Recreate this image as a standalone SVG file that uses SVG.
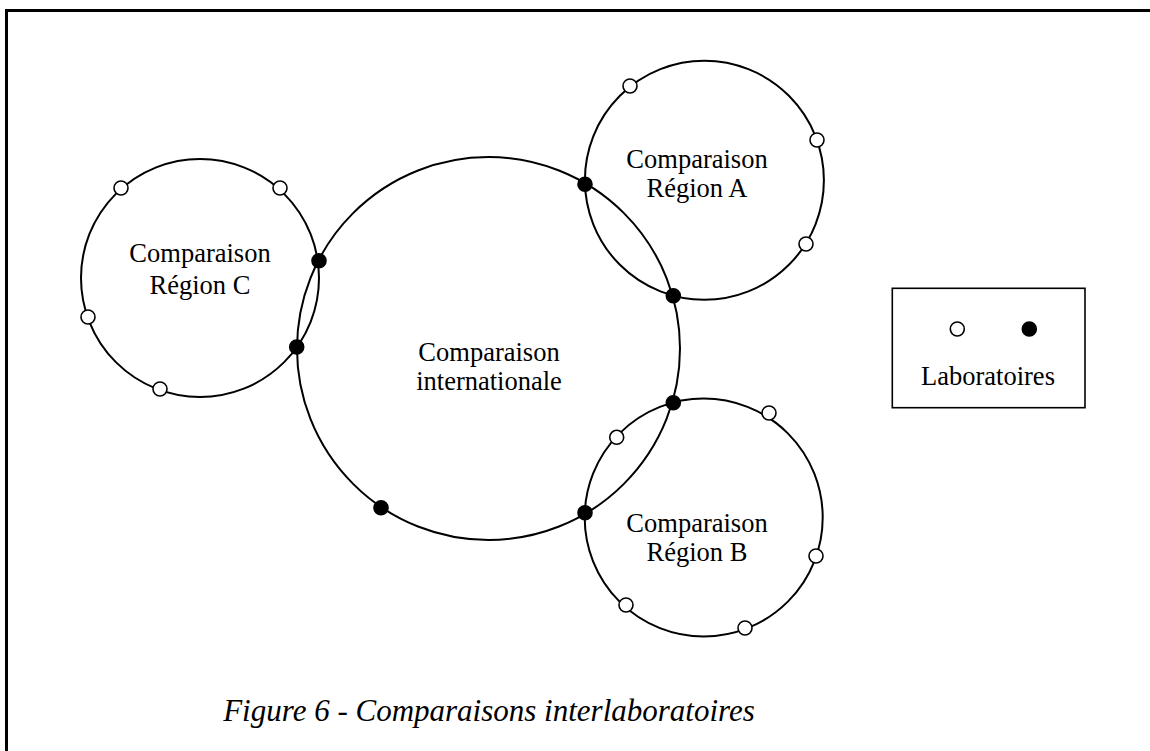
<svg xmlns="http://www.w3.org/2000/svg" width="1150" height="751" viewBox="0 0 1150 751">
  <style>
    .ring { fill: none; stroke: #000; stroke-width: 2; }
    .lab-open { fill: #fff; stroke: #000; stroke-width: 1.6; }
    .lab-full { fill: #000; stroke: #000; stroke-width: 1.6; }
    .label { font-family: "Liberation Serif", "Times New Roman", serif; font-size: 26.5px; fill: #000; text-anchor: middle; }
    .caption { font-family: "Liberation Serif", "Times New Roman", serif; font-size: 31px; font-style: italic; fill: #000; text-anchor: middle; }
  </style>
  <rect width="1150" height="751" fill="#fff"/>

  <!-- page frame (open to the right and bottom) -->
  <path d="M6.5 751 V10.5 H1150" fill="none" stroke="#000" stroke-width="3"/>

  <!-- comparison circles -->
  <g id="connectors">
    <circle class="ring" cx="488.5" cy="348.5" r="191.5"/>
    <circle class="ring" cx="704.4" cy="180.3" r="119.5"/>
    <circle class="ring" cx="703.7" cy="517.5" r="119"/>
    <circle class="ring" cx="200" cy="278" r="119"/>
  </g>

  <g id="international">
    <text class="label" x="489" y="361">Comparaison</text>
    <text class="label" x="489" y="390">internationale</text>
    <circle class="lab-full" cx="381" cy="507.7" r="7"/>
  </g>

  <g id="region-a">
    <text class="label" x="697" y="168">Comparaison</text>
    <text class="label" x="697" y="197">Région A</text>
    <circle class="lab-full" cx="585" cy="184.3" r="7"/>
    <circle class="lab-full" cx="673.3" cy="295.7" r="7"/>
    <circle class="lab-open" cx="630" cy="86" r="7"/>
    <circle class="lab-open" cx="817" cy="140" r="7"/>
    <circle class="lab-open" cx="806" cy="244" r="7"/>
  </g>

  <g id="region-b">
    <text class="label" x="697" y="532">Comparaison</text>
    <text class="label" x="697" y="561">Région B</text>
    <circle class="lab-full" cx="673.3" cy="402.7" r="7"/>
    <circle class="lab-full" cx="585" cy="512.7" r="7"/>
    <circle class="lab-open" cx="616.7" cy="437.3" r="7"/>
    <circle class="lab-open" cx="769" cy="413" r="7"/>
    <circle class="lab-open" cx="816" cy="556" r="7"/>
    <circle class="lab-open" cx="626" cy="605" r="7"/>
    <circle class="lab-open" cx="745" cy="628" r="7"/>
  </g>

  <g id="region-c">
    <text class="label" x="200" y="262">Comparaison</text>
    <text class="label" x="200" y="294">Région C</text>
    <circle class="lab-full" cx="319" cy="260.7" r="7"/>
    <circle class="lab-full" cx="296.7" cy="347" r="7"/>
    <circle class="lab-open" cx="121" cy="188" r="7"/>
    <circle class="lab-open" cx="280" cy="188" r="7"/>
    <circle class="lab-open" cx="88" cy="317" r="7"/>
    <circle class="lab-open" cx="160" cy="389" r="7"/>
  </g>

  <g id="legend">
    <rect x="892.3" y="288.3" width="192.7" height="119.4" fill="#fff" stroke="#000" stroke-width="1.6"/>
    <circle class="lab-open" cx="957.3" cy="329" r="7"/>
    <circle class="lab-full" cx="1029.3" cy="329" r="7"/>
    <text class="label" x="988" y="385">Laboratoires</text>
  </g>

  <g id="caption">
    <text class="caption" x="489" y="721">Figure 6 - Comparaisons interlaboratoires</text>
  </g>
</svg>
